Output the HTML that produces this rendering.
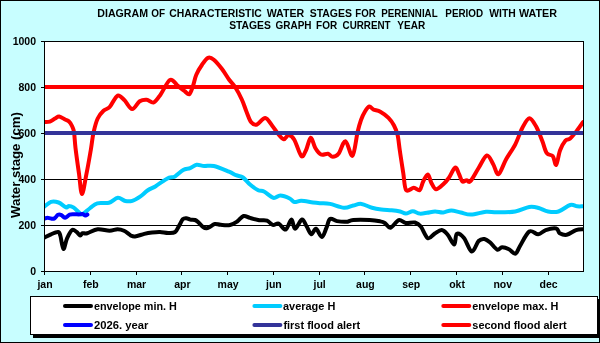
<!DOCTYPE html>
<html><head><meta charset="utf-8"><style>
html,body{margin:0;padding:0;background:#C8FEFF;}
body{width:600px;height:343px;overflow:hidden;}
svg{display:block;font-family:"Liberation Sans", sans-serif;will-change:transform;}
</style></head><body>
<svg width="600" height="343" viewBox="0 0 600 343">
<rect x="0.5" y="0.5" width="599" height="342" fill="#C8FEFF" stroke="#000" stroke-width="1"/>
<rect x="44" y="41" width="539" height="230" fill="#fff"/>
<line x1="44" y1="225.5" x2="583" y2="225.5" stroke="#000" stroke-width="1"/>
<line x1="44" y1="179.5" x2="583" y2="179.5" stroke="#000" stroke-width="1"/>
<line x1="44" y1="133.5" x2="583" y2="133.5" stroke="#000" stroke-width="1"/>
<line x1="44" y1="87.5" x2="583" y2="87.5" stroke="#000" stroke-width="1"/>
<rect x="44.5" y="41.5" width="539" height="230" fill="none" stroke="#000" stroke-width="1"/>
<line x1="41" y1="271.5" x2="44" y2="271.5" stroke="#000" stroke-width="1"/>
<text x="36" y="274.8" text-anchor="end" font-size="10.5" font-weight="bold">0</text>
<line x1="41" y1="225.5" x2="44" y2="225.5" stroke="#000" stroke-width="1"/>
<text x="36" y="228.8" text-anchor="end" font-size="10.5" font-weight="bold">200</text>
<line x1="41" y1="179.5" x2="44" y2="179.5" stroke="#000" stroke-width="1"/>
<text x="36" y="182.8" text-anchor="end" font-size="10.5" font-weight="bold">400</text>
<line x1="41" y1="133.5" x2="44" y2="133.5" stroke="#000" stroke-width="1"/>
<text x="36" y="136.8" text-anchor="end" font-size="10.5" font-weight="bold">600</text>
<line x1="41" y1="87.5" x2="44" y2="87.5" stroke="#000" stroke-width="1"/>
<text x="36" y="90.8" text-anchor="end" font-size="10.5" font-weight="bold">800</text>
<line x1="41" y1="41.5" x2="44" y2="41.5" stroke="#000" stroke-width="1"/>
<text x="36" y="44.8" text-anchor="end" font-size="10.5" font-weight="bold">1000</text>
<line x1="44.5" y1="271" x2="44.5" y2="275" stroke="#000" stroke-width="1"/>
<text x="45.0" y="288" text-anchor="middle" font-size="10.5" font-weight="bold">jan</text>
<line x1="90.5" y1="271" x2="90.5" y2="275" stroke="#000" stroke-width="1"/>
<text x="90.77808219178083" y="288" text-anchor="middle" font-size="10.5" font-weight="bold">feb</text>
<line x1="136.5" y1="271" x2="136.5" y2="275" stroke="#000" stroke-width="1"/>
<text x="136.55616438356165" y="288" text-anchor="middle" font-size="10.5" font-weight="bold">mar</text>
<line x1="181.5" y1="271" x2="181.5" y2="275" stroke="#000" stroke-width="1"/>
<text x="182.33424657534246" y="288" text-anchor="middle" font-size="10.5" font-weight="bold">apr</text>
<line x1="227.5" y1="271" x2="227.5" y2="275" stroke="#000" stroke-width="1"/>
<text x="228.1123287671233" y="288" text-anchor="middle" font-size="10.5" font-weight="bold">may</text>
<line x1="273.5" y1="271" x2="273.5" y2="275" stroke="#000" stroke-width="1"/>
<text x="273.8904109589041" y="288" text-anchor="middle" font-size="10.5" font-weight="bold">jun</text>
<line x1="319.5" y1="271" x2="319.5" y2="275" stroke="#000" stroke-width="1"/>
<text x="319.6684931506849" y="288" text-anchor="middle" font-size="10.5" font-weight="bold">jul</text>
<line x1="364.5" y1="271" x2="364.5" y2="275" stroke="#000" stroke-width="1"/>
<text x="365.44657534246574" y="288" text-anchor="middle" font-size="10.5" font-weight="bold">aug</text>
<line x1="410.5" y1="271" x2="410.5" y2="275" stroke="#000" stroke-width="1"/>
<text x="411.2246575342466" y="288" text-anchor="middle" font-size="10.5" font-weight="bold">sep</text>
<line x1="456.5" y1="271" x2="456.5" y2="275" stroke="#000" stroke-width="1"/>
<text x="457.0027397260274" y="288" text-anchor="middle" font-size="10.5" font-weight="bold">okt</text>
<line x1="502.5" y1="271" x2="502.5" y2="275" stroke="#000" stroke-width="1"/>
<text x="502.7808219178082" y="288" text-anchor="middle" font-size="10.5" font-weight="bold">nov</text>
<line x1="548.5" y1="271" x2="548.5" y2="275" stroke="#000" stroke-width="1"/>
<text x="548.5589041095891" y="288" text-anchor="middle" font-size="10.5" font-weight="bold">dec</text>
<clipPath id="cp"><rect x="45" y="42" width="538" height="229"/></clipPath>
<g clip-path="url(#cp)">
<path d="M44.0,237.8 C45.2,237.2 48.7,235.3 51.0,234.3 C53.3,233.3 56.5,231.8 58.0,232.0 C59.5,232.2 59.4,232.7 60.3,235.5 C61.2,238.3 62.3,248.5 63.4,249.0 C64.5,249.5 65.6,241.7 67.0,238.5 C68.4,235.3 70.4,231.2 72.0,230.1 C73.6,229.0 75.3,231.1 76.7,232.0 C78.1,232.9 79.2,235.3 80.2,235.5 C81.2,235.7 81.3,233.6 82.5,233.2 C83.7,232.8 84.7,233.9 87.2,233.2 C89.7,232.5 94.0,229.6 97.7,229.2 C101.4,228.8 106.2,230.7 109.5,230.7 C112.8,230.7 115.1,229.2 117.5,229.2 C119.9,229.2 121.8,229.7 124.0,230.7 C126.2,231.7 128.9,234.4 130.7,235.4 C132.5,236.4 132.7,236.8 135.0,236.5 C137.3,236.2 141.5,234.6 144.3,233.9 C147.1,233.2 149.4,232.8 152.0,232.5 C154.6,232.2 157.3,231.9 160.0,232.0 C162.7,232.1 165.7,233.0 168.2,233.0 C170.7,233.0 173.3,233.3 175.2,232.0 C177.0,230.7 178.0,227.5 179.3,225.4 C180.6,223.3 181.6,220.4 182.8,219.2 C184.0,218.0 185.1,218.1 186.3,218.2 C187.6,218.3 188.9,219.3 190.3,219.6 C191.8,219.9 193.6,219.5 195.0,220.0 C196.4,220.5 197.1,221.3 198.5,222.5 C199.9,223.7 201.8,226.2 203.2,227.2 C204.6,228.2 205.3,228.5 206.7,228.3 C208.0,228.1 210.0,226.7 211.3,226.0 C212.7,225.3 213.2,224.1 214.8,223.9 C216.4,223.7 218.2,224.6 220.7,224.8 C223.2,225.0 227.2,225.6 230.0,225.0 C232.8,224.4 234.9,223.0 237.2,221.5 C239.4,220.0 241.4,216.6 243.5,216.0 C245.6,215.4 247.4,217.2 250.0,217.9 C252.6,218.6 256.5,219.7 259.3,220.2 C262.1,220.7 264.8,219.9 267.0,220.7 C269.2,221.5 270.9,224.4 272.8,224.9 C274.8,225.4 276.6,222.7 278.7,223.5 C280.8,224.3 283.6,230.2 285.7,229.5 C287.8,228.8 289.9,219.6 291.5,219.5 C293.1,219.4 293.2,228.8 295.0,228.8 C296.8,228.8 300.1,219.9 302.0,219.5 C303.9,219.1 305.1,224.1 306.7,226.5 C308.2,228.9 309.8,233.8 311.3,234.2 C312.9,234.6 314.2,228.3 316.0,228.8 C317.8,229.3 320.1,237.2 321.8,237.0 C323.6,236.8 325.1,230.7 326.5,227.7 C327.9,224.7 328.2,220.1 330.0,219.0 C331.8,217.9 334.3,220.6 337.0,221.1 C339.7,221.6 343.6,222.0 346.3,221.8 C349.0,221.6 349.4,220.3 353.3,220.0 C357.2,219.7 365.2,219.8 369.7,220.0 C374.1,220.2 377.5,220.8 380.0,221.3 C382.5,221.8 383.1,221.9 384.8,223.0 C386.6,224.1 388.2,228.2 390.5,227.7 C392.8,227.2 396.2,221.0 398.7,220.2 C401.2,219.4 403.0,222.6 405.7,223.0 C408.4,223.4 412.5,221.9 415.0,222.5 C417.5,223.1 418.7,223.9 420.8,226.5 C422.9,229.1 425.5,237.0 427.8,238.2 C430.1,239.4 432.5,234.9 434.8,233.5 C437.1,232.1 439.7,229.8 441.8,230.0 C443.9,230.2 445.6,232.3 447.7,234.7 C449.8,237.1 452.7,244.7 454.2,244.5 C455.7,244.3 455.2,234.9 456.8,233.8 C458.4,232.7 461.5,235.0 464.0,238.0 C466.5,241.0 469.4,251.1 471.8,251.6 C474.2,252.1 476.5,243.1 478.6,241.0 C480.7,238.9 482.5,238.7 484.4,239.0 C486.3,239.3 488.1,240.8 490.2,242.6 C492.3,244.4 495.2,248.8 497.2,249.6 C499.2,250.4 500.0,247.4 502.0,247.3 C504.0,247.2 506.8,248.2 509.0,249.3 C511.2,250.4 513.7,254.2 515.5,253.6 C517.3,253.0 517.7,249.7 520.0,246.0 C522.3,242.3 526.3,233.4 529.3,231.5 C532.3,229.6 535.5,234.5 538.2,234.3 C540.9,234.1 542.7,231.1 545.7,230.1 C548.7,229.1 553.9,228.0 556.2,228.5 C558.5,229.0 558.0,232.1 559.7,233.2 C561.5,234.2 564.0,235.3 566.7,234.8 C569.4,234.3 573.3,231.0 576.0,230.1 C578.7,229.2 581.8,229.3 583.0,229.2" fill="none" stroke="#000" stroke-width="4" stroke-linejoin="round" stroke-linecap="round"/>
<path d="M44.0,207.0 C45.2,206.1 48.6,202.6 51.0,201.8 C53.4,201.1 56.1,201.6 58.6,202.5 C61.1,203.4 64.3,206.8 66.0,207.4 C67.7,208.0 67.5,206.0 68.7,206.0 C69.9,206.0 71.5,206.2 73.4,207.4 C75.3,208.6 78.5,212.3 80.1,213.4 C81.7,214.5 81.1,215.0 82.8,214.1 C84.5,213.2 87.8,209.8 90.2,208.0 C92.6,206.2 94.2,204.2 97.3,203.3 C100.4,202.4 105.6,203.7 109.0,202.8 C112.4,201.9 115.1,198.1 117.8,197.8 C120.5,197.5 122.9,200.5 125.3,201.0 C127.7,201.5 129.8,201.6 132.3,200.8 C134.8,200.0 138.0,198.0 140.5,196.3 C143.0,194.6 145.0,192.2 147.5,190.5 C150.0,188.8 153.1,187.8 155.7,186.2 C158.3,184.6 161.1,182.4 163.3,181.0 C165.6,179.6 167.2,178.4 169.2,177.6 C171.1,176.8 172.7,177.7 175.0,176.4 C177.3,175.1 180.7,171.4 183.2,170.0 C185.7,168.6 188.0,169.1 190.2,168.2 C192.4,167.3 194.3,165.2 196.6,164.8 C198.9,164.4 201.3,165.8 204.2,166.0 C207.1,166.2 209.7,165.1 213.8,166.0 C217.9,166.9 225.3,170.2 229.0,171.7 C232.7,173.2 233.7,174.2 236.0,175.2 C238.3,176.2 240.7,175.9 243.0,177.5 C245.3,179.1 247.5,182.4 250.0,184.5 C252.5,186.6 255.9,189.1 258.2,190.3 C260.5,191.5 261.5,190.2 264.0,191.5 C266.5,192.8 270.6,197.1 273.3,197.8 C276.0,198.5 277.6,195.4 280.3,195.5 C283.0,195.6 287.4,197.4 289.7,198.5 C292.0,199.6 292.4,201.6 294.3,202.0 C296.2,202.4 298.2,200.7 301.3,200.8 C304.4,200.9 309.8,202.1 313.0,202.5 C316.2,202.9 317.9,203.0 320.7,203.2 C323.5,203.4 326.1,203.1 330.0,203.9 C333.9,204.7 340.1,207.5 344.0,207.8 C347.9,208.1 350.4,206.2 353.3,205.5 C356.2,204.8 358.4,203.5 361.5,203.9 C364.6,204.3 368.7,206.9 372.0,207.8 C375.3,208.7 378.0,209.1 381.3,209.5 C384.6,209.9 388.6,209.9 391.7,210.2 C394.8,210.5 397.6,210.9 400.0,211.5 C402.4,212.1 403.7,213.6 405.8,213.6 C407.9,213.6 410.5,211.3 412.8,211.3 C415.1,211.3 417.4,213.3 419.8,213.6 C422.2,213.8 424.5,213.2 427.0,212.8 C429.5,212.5 432.3,211.6 435.0,211.5 C437.7,211.4 440.5,212.7 443.2,212.5 C445.9,212.3 448.4,210.4 451.3,210.4 C454.2,210.4 457.4,211.8 460.7,212.5 C464.0,213.2 466.8,214.7 471.0,214.6 C475.2,214.5 481.7,212.1 486.0,211.7 C490.3,211.3 491.8,212.3 496.7,212.3 C501.6,212.3 509.9,212.4 515.3,211.5 C520.7,210.6 525.4,207.6 529.3,207.0 C533.2,206.4 535.6,207.2 538.7,208.0 C541.8,208.8 544.7,210.9 548.0,211.5 C551.3,212.1 554.8,212.6 558.5,211.5 C562.2,210.4 567.1,205.9 570.2,205.0 C573.3,204.1 575.1,206.1 577.2,206.3 C579.3,206.5 582.0,206.3 583.0,206.3" fill="none" stroke="#00CCFF" stroke-width="4" stroke-linejoin="round" stroke-linecap="round"/>
<path d="M44.0,122.0 C45.0,121.9 48.0,122.2 49.8,121.6 C51.6,121.0 53.4,119.3 55.0,118.5 C56.6,117.7 57.5,116.3 59.2,116.5 C60.9,116.7 63.4,118.7 65.0,119.5 C66.6,120.3 67.8,120.4 69.0,121.5 C70.2,122.6 71.2,124.2 72.0,126.0 C72.8,127.8 73.4,128.3 74.0,132.0 C74.6,135.7 74.7,141.1 75.5,148.0 C76.3,154.9 77.9,166.0 79.0,173.7 C80.1,181.4 80.8,194.0 82.0,194.0 C83.2,194.0 85.0,181.0 86.5,173.7 C88.0,166.4 89.6,156.9 90.8,150.0 C92.0,143.1 92.4,137.4 93.6,132.2 C94.8,126.9 96.0,122.1 97.7,118.5 C99.4,114.9 101.6,112.6 103.5,110.8 C105.4,109.0 107.6,109.0 109.3,107.4 C111.0,105.8 112.0,103.0 113.5,101.0 C115.0,99.0 116.4,95.6 118.2,95.5 C120.0,95.4 122.2,98.0 124.5,100.2 C126.8,102.5 129.7,108.8 132.2,109.0 C134.7,109.2 137.3,102.8 139.7,101.3 C142.1,99.8 144.4,99.5 146.7,99.7 C149.0,99.9 151.4,103.4 153.7,102.5 C156.0,101.6 158.0,98.1 160.7,94.3 C163.4,90.5 167.3,81.5 170.0,79.9 C172.7,78.4 175.3,83.7 177.0,85.0 C178.7,86.3 178.7,86.7 180.0,87.7 C181.3,88.7 183.1,90.1 184.7,91.2 C186.2,92.3 188.0,95.0 189.3,94.2 C190.7,93.4 191.6,89.7 192.8,86.5 C194.0,83.3 194.7,78.5 196.3,74.8 C197.9,71.1 200.2,67.3 202.2,64.5 C204.1,61.7 206.1,58.6 208.0,57.8 C209.9,57.0 211.5,57.8 213.8,59.7 C216.1,61.6 219.5,65.7 222.0,69.0 C224.5,72.3 226.9,76.6 229.0,79.5 C231.1,82.4 232.7,83.2 234.8,86.5 C236.9,89.8 239.9,95.3 241.8,99.5 C243.8,103.7 244.9,107.9 246.5,111.7 C248.1,115.5 249.4,120.1 251.2,122.2 C252.9,124.3 254.7,125.2 257.0,124.5 C259.3,123.8 262.7,117.8 265.2,118.0 C267.7,118.2 270.1,123.1 272.2,125.7 C274.3,128.3 276.1,131.6 278.0,133.8 C279.9,136.1 282.1,139.0 283.8,139.2 C285.6,139.4 286.8,134.9 288.5,135.0 C290.2,135.1 292.2,136.2 294.3,139.7 C296.4,143.2 299.4,154.2 301.3,156.0 C303.2,157.8 304.4,153.2 306.0,150.2 C307.6,147.2 309.1,138.2 310.7,137.8 C312.2,137.4 313.6,145.2 315.3,148.0 C317.0,150.8 318.9,153.5 321.0,154.5 C323.1,155.5 326.1,153.4 328.0,153.8 C329.9,154.2 330.9,156.8 332.7,156.8 C334.4,156.8 336.4,156.4 338.5,153.8 C340.6,151.2 343.2,140.9 345.5,141.2 C347.8,141.5 350.5,157.2 352.5,155.7 C354.5,154.2 356.2,137.9 357.6,132.0 C359.0,126.0 359.8,123.4 361.0,120.0 C362.2,116.6 363.6,113.8 365.0,111.5 C366.4,109.2 367.9,106.8 369.3,106.5 C370.7,106.2 371.5,108.6 373.3,109.5 C375.1,110.4 377.8,110.3 380.3,111.7 C382.8,113.1 386.2,115.5 388.5,117.8 C390.8,120.1 392.5,122.6 394.0,125.5 C395.5,128.4 396.6,130.8 397.6,135.0 C398.6,139.2 398.9,144.6 399.9,151.0 C400.8,157.4 402.3,166.8 403.3,173.3 C404.3,179.8 404.4,187.7 406.1,190.1 C407.9,192.5 411.5,187.8 413.8,187.8 C416.1,187.8 418.1,191.2 419.7,190.1 C421.3,189.0 421.8,184.1 423.2,181.5 C424.6,178.9 426.4,174.3 427.8,174.5 C429.2,174.7 429.9,180.2 431.3,182.7 C432.7,185.1 434.1,188.9 436.0,189.2 C437.9,189.5 440.9,186.4 443.0,184.5 C445.1,182.6 446.8,180.8 448.8,178.0 C450.8,175.2 453.4,168.3 455.1,167.6 C456.8,166.9 457.8,171.7 459.0,174.0 C460.2,176.3 461.1,180.5 462.3,181.5 C463.6,182.5 465.1,180.2 466.5,180.2 C467.9,180.1 468.5,183.2 470.5,181.2 C472.5,179.2 475.9,172.3 478.6,168.0 C481.3,163.7 484.5,156.1 486.9,155.5 C489.3,154.9 491.3,161.1 493.2,164.2 C495.1,167.3 496.4,175.0 498.5,174.2 C500.6,173.4 503.2,164.5 506.0,159.5 C508.8,154.5 512.6,149.6 515.3,144.3 C518.0,139.1 520.0,132.3 522.3,128.0 C524.6,123.7 527.0,118.4 529.3,118.2 C531.6,118.0 534.1,123.0 536.3,126.8 C538.4,130.6 540.5,136.4 542.2,140.8 C544.0,145.2 545.0,150.7 546.8,153.2 C548.5,155.7 551.1,154.1 552.7,156.0 C554.3,157.9 555.0,165.7 556.2,164.8 C557.4,163.9 558.5,154.6 560.0,150.5 C561.5,146.4 563.8,142.5 565.5,140.5 C567.2,138.5 568.2,140.2 570.2,138.5 C572.2,136.8 575.1,133.0 577.2,130.3 C579.3,127.6 582.0,123.6 583.0,122.2" fill="none" stroke="#FF0000" stroke-width="4" stroke-linejoin="round" stroke-linecap="round"/>
<line x1="44" y1="87" x2="583" y2="87" stroke="#FF0000" stroke-width="4"/>
<line x1="44" y1="133" x2="583" y2="133" stroke="#333399" stroke-width="4"/>
<path d="M44.0,218.8 C44.6,218.6 46.3,217.8 47.5,217.8 C48.7,217.8 49.8,218.5 51.0,218.6 C52.2,218.7 53.3,219.0 54.5,218.4 C55.7,217.8 56.8,215.4 58.0,214.8 C59.2,214.2 60.3,214.6 61.5,215.1 C62.7,215.6 63.6,217.9 65.0,217.8 C66.4,217.7 68.2,215.2 69.7,214.6 C71.2,214.0 72.5,214.2 74.0,214.2 C75.5,214.2 77.6,214.4 79.0,214.4 C80.4,214.4 81.4,213.7 82.5,213.9 C83.6,214.1 84.6,215.5 85.4,215.6 C86.2,215.7 87.1,214.7 87.4,214.5" fill="none" stroke="#0000FF" stroke-width="4" stroke-linejoin="round" stroke-linecap="round"/>
</g>
<text x="97.31" y="17" font-size="10.5" font-weight="bold" textLength="50.70" lengthAdjust="spacingAndGlyphs">DIAGRAM</text>
<text x="151.16" y="17" font-size="10.5" font-weight="bold" textLength="13.83" lengthAdjust="spacingAndGlyphs">OF</text>
<text x="169.26" y="17" font-size="10.5" font-weight="bold" textLength="92.64" lengthAdjust="spacingAndGlyphs">CHARACTERISTIC</text>
<text x="266.68" y="17" font-size="10.5" font-weight="bold" textLength="37.54" lengthAdjust="spacingAndGlyphs">WATER</text>
<text x="309.69" y="17" font-size="10.5" font-weight="bold" textLength="42.23" lengthAdjust="spacingAndGlyphs">STAGES</text>
<text x="355.31" y="17" font-size="10.5" font-weight="bold" textLength="20.41" lengthAdjust="spacingAndGlyphs">FOR</text>
<text x="381.31" y="17" font-size="10.5" font-weight="bold" textLength="56.31" lengthAdjust="spacingAndGlyphs">PERENNIAL</text>
<text x="445.31" y="17" font-size="10.5" font-weight="bold" textLength="37.88" lengthAdjust="spacingAndGlyphs">PERIOD</text>
<text x="489.23" y="17" font-size="10.5" font-weight="bold" textLength="26.49" lengthAdjust="spacingAndGlyphs">WITH</text>
<text x="518.98" y="17" font-size="10.5" font-weight="bold" textLength="38.04" lengthAdjust="spacingAndGlyphs">WATER</text>
<text x="229.19" y="29" font-size="10.5" font-weight="bold" textLength="41.73" lengthAdjust="spacingAndGlyphs">STAGES</text>
<text x="275.56" y="29" font-size="10.5" font-weight="bold" textLength="35.95" lengthAdjust="spacingAndGlyphs">GRAPH</text>
<text x="316.11" y="29" font-size="10.5" font-weight="bold" textLength="21.11" lengthAdjust="spacingAndGlyphs">FOR</text>
<text x="342.56" y="29" font-size="10.5" font-weight="bold" textLength="48.05" lengthAdjust="spacingAndGlyphs">CURRENT</text>
<text x="397.31" y="29" font-size="10.5" font-weight="bold" textLength="27.90" lengthAdjust="spacingAndGlyphs">YEAR</text>
<text transform="translate(19.6,165) rotate(-90)" text-anchor="middle" font-size="13.2" font-weight="bold">Water stage (cm)</text>
<rect x="33" y="299" width="567" height="39" fill="#000"/>
<rect x="30.5" y="296.5" width="567" height="38" fill="#fff" stroke="#000" stroke-width="1"/>
<line x1="65" y1="306" x2="91" y2="306" stroke="#000" stroke-width="4" stroke-linecap="round"/>
<text x="93.96" y="310" font-size="11" font-weight="bold" textLength="82.99" lengthAdjust="spacingAndGlyphs">envelope min. H</text>
<line x1="254.4" y1="306" x2="280.4" y2="306" stroke="#00CCFF" stroke-width="4" stroke-linecap="round"/>
<text x="282.97" y="310" font-size="11" font-weight="bold" textLength="52.39" lengthAdjust="spacingAndGlyphs">average H</text>
<line x1="443.3" y1="306" x2="469.3" y2="306" stroke="#FF0000" stroke-width="4" stroke-linecap="round"/>
<text x="472.26" y="310" font-size="11" font-weight="bold" textLength="86.09" lengthAdjust="spacingAndGlyphs">envelope max. H</text>
<line x1="65" y1="325" x2="91" y2="325" stroke="#0000FF" stroke-width="4" stroke-linecap="round"/>
<text x="94.03" y="329" font-size="11" font-weight="bold" textLength="54.35" lengthAdjust="spacingAndGlyphs">2026. year</text>
<line x1="254.4" y1="325" x2="280.4" y2="325" stroke="#333399" stroke-width="4" stroke-linecap="round"/>
<text x="283.40" y="329" font-size="11" font-weight="bold" textLength="76.74" lengthAdjust="spacingAndGlyphs">first flood alert</text>
<line x1="443.3" y1="325" x2="469.3" y2="325" stroke="#FF0000" stroke-width="4" stroke-linecap="round"/>
<text x="472.30" y="329" font-size="11" font-weight="bold" textLength="94.33" lengthAdjust="spacingAndGlyphs">second flood alert</text>
</svg>
</body></html>
